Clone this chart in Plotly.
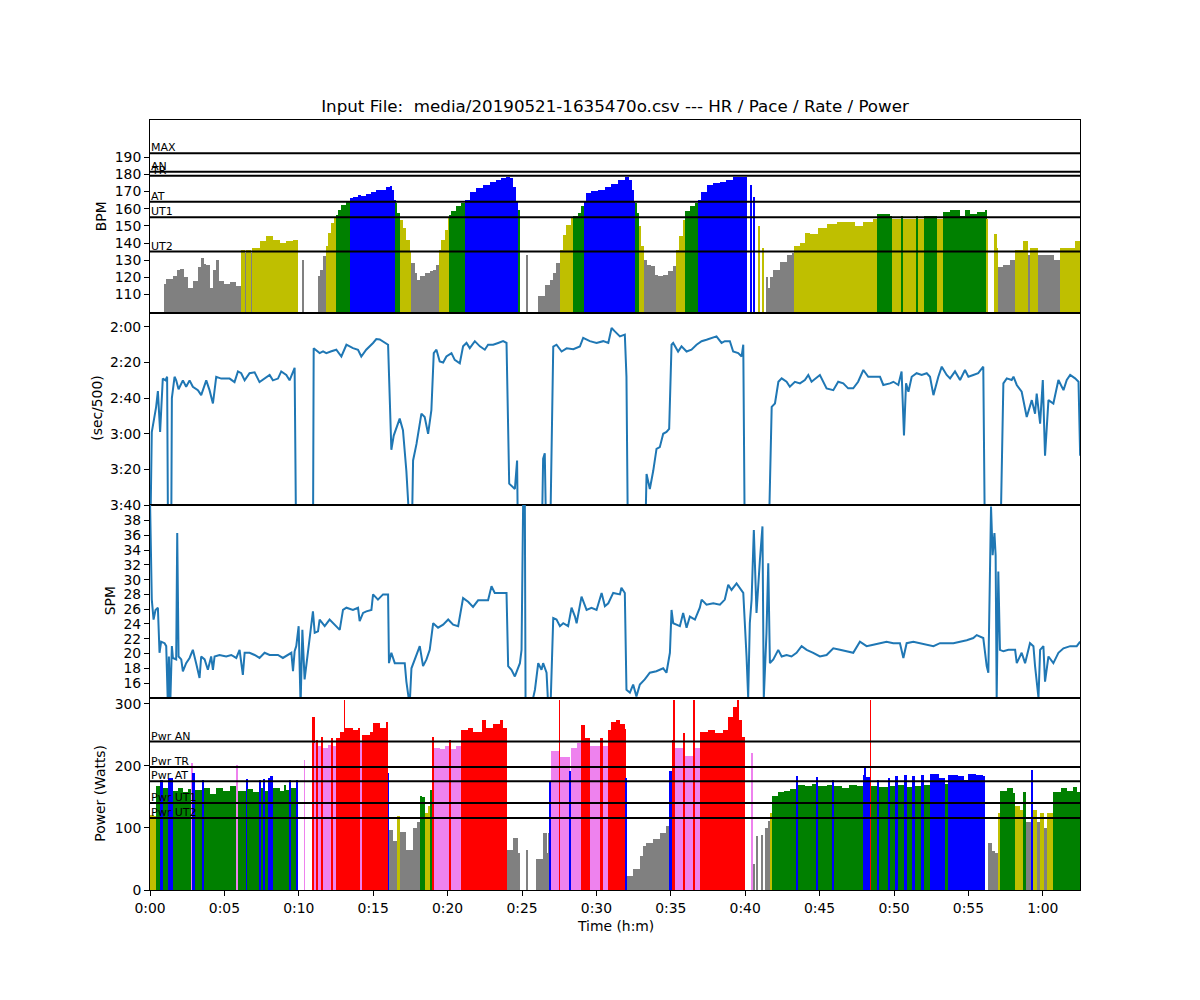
import plotly.graph_objects as go
from plotly.subplots import make_subplots

# ---------------- data (time in minutes) ----------------
hr_time = [
    0.00, 0.91, 1.09, 1.54, 1.80, 2.03, 2.30, 2.54, 2.88, 3.20,
    3.44, 3.60, 3.78, 4.00, 4.25, 4.45, 4.67, 5.00, 5.35, 5.80,
    6.13, 6.40, 6.45, 6.69, 6.80, 6.85, 7.03, 7.36, 7.81, 8.26,
    8.71, 9.16, 9.61, 9.94, 10.25, 10.33,
    11.33, 11.40, 11.62, 11.80, 11.96, 12.18, 12.41, 12.52, 12.63, 12.85,
    13.19, 13.42, 13.64, 13.98, 14.20, 14.54, 14.87, 15.21, 15.55, 15.88,
    16.11, 16.29, 16.43, 16.50, 16.60, 16.78, 17.00, 17.22, 17.45, 17.56,
    17.79, 17.94, 18.12, 18.46, 18.79, 19.02, 19.24, 19.40, 19.58, 19.81,
    20.03, 20.14, 20.26, 20.59, 20.93, 21.16, 21.49, 21.94, 22.39, 22.84,
    23.28, 23.62, 23.95, 24.18, 24.40, 24.58, 24.74, 24.85, 25.30, 25.36,
    26.08, 26.53, 26.87, 27.09, 27.31, 27.54, 27.76, 27.99, 28.32,
    28.43, 28.77, 28.99, 29.15, 29.33, 29.66, 30.11, 30.56, 31.01, 31.46,
    31.91, 32.20, 32.42, 32.52, 32.60, 32.74, 32.87, 33.03, 33.19, 33.37,
    33.70, 33.93, 34.15, 34.49, 34.82, 35.16, 35.34, 35.56, 35.83, 35.94,
    36.27, 36.61, 36.84, 37.06, 37.40, 37.85, 38.29, 38.74, 39.19, 39.64,
    40.09, 40.36, 40.45, 40.57, 40.65, 40.86, 40.93, 41.15, 41.22, 41.40, 41.55,
    41.66, 41.89, 42.33, 42.78, 43.12, 43.30, 43.68, 44.01, 44.35, 44.91,
    45.47, 46.14, 46.82, 47.37, 47.94, 48.61, 48.83, 49.73, 49.84, 50.51,
    50.63, 51.52, 51.63, 52.02, 52.91, 53.27, 53.77, 54.44, 54.78, 55.11,
    55.56, 56.12, 56.23, 56.30, 56.75, 56.90, 57.02, 57.35, 57.80, 58.14,
    58.70, 59.03, 59.15, 59.26, 59.71, 60.27, 60.72, 61.16, 61.83, 62.17,
]
hr_bpm = [
    0, 116, 119, 121, 124, 125, 120, 114, 118, 126,
    131, 128, 127, 114, 124, 130, 118, 116, 117, 115,
    136, 134, 136, 136, 134, 137, 137, 141, 144, 142,
    140, 141, 142, 0, 130, 0,
    121, 124.5, 132.2, 138, 145.8, 151.6, 154.5, 156.4, 159.4, 162.3,
    163.8, 166.1, 166.7, 168.1, 167.5, 168.7, 170, 171, 171, 172.5,
    173.3, 171, 165.2, 163.2, 157.4, 153.5, 148.7, 141.9, 135.1, 128.4,
    122.5, 118.7, 120.6, 122.5, 123.5, 124.5, 127.4, 136, 141.9, 147.7,
    154.5, 156.4, 158.4, 161.3, 163.2, 165.2, 170, 171.9, 173.9, 175.8,
    176.8, 177.8, 178.7, 177.8, 172.9, 164.2, 159.4, 0, 133.2, 0,
    109, 115.8, 118.7, 122.5, 128.4, 136.1, 144.8, 150.6, 154.5,
    155.5, 157.4, 161.3, 164.2, 169.1, 170.6, 171, 172.9, 174.5, 176.8,
    178.4, 176.8, 171, 164.5, 163.2, 157.4, 149.7, 138, 130.3, 127.4,
    126.4, 121.6, 120.6, 121.6, 123.5, 126.4, 136, 143.9, 153.5, 158.4,
    161.3, 163.2, 165.2, 170, 173.9, 174.8, 175.8, 176.8, 178.4, 178.7,
    0, 174, 0, 167, 0, 150, 0, 137, 0, 120, 114,
    120, 124, 129, 133, 134, 138, 140, 146, 145, 149,
    151, 152, 152, 150, 152, 154, 157, 156, 154, 156,
    154, 156, 154, 156, 154, 158, 159, 156, 159, 157,
    158, 159, 154, 0, 145, 137, 126, 127, 130, 136,
    141, 133, 137, 137, 133, 133, 130, 137, 137, 141,
]

pace_time = [
    0.00, 0.12, 0.41, 0.53, 0.68, 0.86, 1.04, 1.15, 1.22, 1.42,
    1.47, 1.65, 1.76, 1.92, 2.21, 2.43, 2.66, 2.88, 3.22, 3.44,
    3.78, 4.00, 4.23, 4.45, 4.79, 5.35, 5.68, 5.91, 6.13, 6.36,
    6.69, 7.03, 7.36, 7.70, 8.04, 8.26, 8.60, 8.82, 9.16, 9.38,
    9.61, 9.72, 9.83, 10.95, 11.00, 11.18, 11.40, 11.63, 11.85, 12.19,
    12.52, 12.86, 13.20, 13.64, 13.98, 14.20, 14.53, 14.99, 15.21, 15.44,
    15.77, 16.00, 16.22, 16.38, 16.78, 17.00, 17.23, 17.45, 17.57, 17.68,
    17.91, 18.24, 18.46, 18.69, 18.91, 19.07, 19.25, 19.47, 19.70, 19.92,
    20.26, 20.48, 20.82, 21.04, 21.27, 21.49, 21.83, 22.17, 22.50, 22.72,
    23.06, 23.40, 23.73, 23.96, 24.14, 24.52, 24.67, 24.74, 26.31, 26.42,
    26.53, 26.65, 26.87, 27.10, 27.32, 27.66, 28.00, 28.45, 28.89, 29.11,
    29.56, 30.01, 30.46, 30.80, 31.02, 31.24, 31.58, 31.91, 32.02, 32.13,
    33.25, 33.37, 33.59, 33.82, 34.04, 34.26, 34.49, 34.71, 34.89, 35.05,
    35.16, 35.49, 35.72, 36.06, 36.39, 36.73, 37.07, 37.40, 37.74, 38.07,
    38.41, 38.63, 38.97, 39.19, 39.53, 39.76, 39.87, 39.98, 41.55, 41.78,
    42.00, 42.23, 42.45, 42.78, 43.00, 43.34, 43.68, 44.01, 44.24, 44.46,
    45.02, 45.47, 45.92, 46.25, 46.59, 46.92, 47.26, 47.59, 47.94, 48.27,
    48.61, 49.06, 49.28, 49.73, 49.96, 50.29, 50.51, 50.67, 50.81, 50.97,
    51.19, 51.52, 51.86, 52.20, 52.42, 52.65, 52.98, 53.21, 53.54, 53.77,
    54.10, 54.44, 54.77, 55.00, 55.33, 55.66, 56.00, 56.12, 57.13, 57.35,
    57.58, 57.91, 58.03, 58.25, 58.58, 58.92, 59.26, 59.48, 59.59, 59.82,
    60.00, 60.15, 60.38, 60.71, 61.05, 61.39, 61.61, 61.84, 62.17, 62.40,
    62.51,
]
pace_sec = [
    250, 179, 165, 156, 179, 149, 150, 148, 250, 250,
    160, 148, 150, 155, 150, 153.6, 150, 153.6, 155.5, 158.3,
    150, 155.5, 163, 148, 149, 149, 151, 145, 146, 150,
    146, 145.5, 151, 149, 147, 150, 149, 145, 147, 150,
    145, 143, 250, 250, 132, 133, 134.7, 133.7, 134.7, 133.7,
    132.8, 136.6, 130, 131.9, 132.8, 136.6, 132.8, 129, 126.8, 127,
    129, 130, 189, 181, 171.5, 178, 201, 250, 250, 195,
    185.7, 168.7, 170.6, 180, 166.8, 134.7, 132.8, 139.4, 140, 136.6,
    134.7, 138.5, 140.4, 130.9, 129, 131.9, 128, 130.9, 132.8, 130,
    130, 129, 128, 129, 208, 211, 195, 250, 250, 194,
    191, 250, 250, 131, 130, 133.8, 132, 132.5, 131, 126.2,
    128, 129, 128, 129, 120.6, 122.5, 125.3, 124.3, 147.9, 250,
    250, 202.6, 211, 200.8, 188.5, 187.5, 180, 179, 177.2, 130,
    129, 133.8, 130.9, 133.8, 132.8, 130, 128, 127.2, 126.2, 125.3,
    129, 128, 128, 133.8, 134.7, 136.6, 130, 250, 250, 164.9,
    163, 150.8, 148.9, 150.8, 153.6, 150.8, 151.7, 149.8, 147, 150.8,
    147, 154.5, 155.5, 150.8, 151.7, 154.5, 154.5, 150.8, 144.2, 148,
    148, 148, 152.6, 151.7, 150.8, 152.6, 145, 180.9, 151.7, 156.4,
    148, 146, 147, 146, 148, 158.3, 148, 142.3, 147, 148.9,
    145, 149.8, 144.2, 148, 147, 146, 142.3, 250, 250, 151.7,
    148.9, 149.8, 147.9, 152.6, 156.4, 170.6, 161.1, 168.7, 157.4, 174.3,
    149.8, 192.3, 161.1, 163, 149.8, 155.5, 149.8, 147, 148.9, 150.8,
    192.3,
]

spm_time = [
    0.00, 0.12, 0.24, 0.37, 0.53, 0.64, 0.75, 0.98, 1.09, 1.20,
    1.27, 1.36, 1.47, 1.54, 1.76, 1.83, 1.92, 2.10, 2.21, 2.43,
    2.66, 2.88, 3.10, 3.33, 3.44, 3.67, 3.89, 4.11, 4.23, 4.34,
    4.67, 5.12, 5.46, 5.80, 6.02, 6.24, 6.36, 6.69, 7.03, 7.36,
    7.70, 8.04, 8.26, 8.60, 8.93, 9.27, 9.50, 9.61, 9.72, 9.83,
    9.99, 10.12, 10.24, 10.39, 10.95, 11.07, 11.29, 11.40, 11.74, 12.07,
    12.41, 12.75, 12.97, 13.20, 13.64, 13.98, 14.09, 14.32, 14.54, 14.88,
    14.99, 15.32, 15.66, 16.00, 16.06, 16.22, 16.45, 16.78, 17.12, 17.23,
    17.45, 17.57, 17.79, 18.13, 18.35, 18.58, 18.80, 19.03, 19.36, 19.70,
    20.04, 20.37, 20.71, 21.04, 21.38, 21.71, 22.05, 22.39, 22.72, 22.95,
    23.17, 23.51, 23.96, 24.07, 24.29, 24.52, 24.74, 24.86, 24.97, 25.08,
    25.19, 25.24, 25.64, 25.87, 26.09, 26.31, 26.42, 26.65, 26.76, 26.92,
    27.10, 27.32, 27.55, 27.77, 28.10, 28.33, 28.56, 28.67, 29.00, 29.34,
    29.67, 30.01, 30.35, 30.57, 30.80, 31.13, 31.58, 31.68, 31.91, 32.02,
    32.25, 32.47, 32.69, 32.92, 33.25, 33.59, 34.03, 34.49, 34.71, 34.94,
    35.05, 35.16, 35.38, 35.61, 35.83, 36.06, 36.28, 36.62, 36.95, 37.07,
    37.40, 37.85, 38.30, 38.63, 38.86, 39.08, 39.42, 39.64, 39.87, 40.09,
    40.20, 40.31, 40.43, 40.58, 40.76, 40.99, 41.16, 41.25, 41.43, 41.55,
    41.66, 41.89, 42.22, 42.45, 42.78, 43.11, 43.45, 43.79, 44.13, 44.57,
    45.02, 45.47, 45.92, 46.37, 46.82, 47.26, 47.71, 48.16, 48.61, 49.06,
    49.50, 49.95, 50.40, 50.63, 50.85, 51.30, 51.75, 52.19, 52.65, 53.09,
    53.54, 53.99, 54.44, 54.89, 55.33, 55.56, 56.00, 56.23, 56.34, 56.45,
    56.52, 56.63, 56.75, 56.83, 56.90, 57.01, 57.12, 57.35, 57.69, 58.14,
    58.25, 58.58, 58.81, 59.14, 59.37, 59.48, 59.71, 59.82, 60.04, 60.15,
    60.38, 60.71, 61.05, 61.39, 61.84, 62.28, 62.51,
]
spm_val = [
    41, 27.3, 24.6, 25.9, 26.2, 20.1, 21.6, 21.4, 21, 13,
    19.6, 13, 21, 19.4, 19.2, 36.3, 19.6, 19.2, 17.6, 18.7,
    19.4, 20.5, 18.7, 16.7, 19.6, 19.2, 17.8, 19.6, 17.8, 19.6,
    19.8, 19.6, 19.8, 19.4, 20.5, 17.1, 20.1, 20.1, 19.8, 19.4,
    20.1, 19.8, 19.8, 19.8, 19.4, 19.8, 20.1, 17.6, 20.3, 21,
    23.7, 13, 23.2, 16.5, 25.7, 22.8, 23, 24.6, 23.7, 24.6,
    23.9, 23.2, 25.9, 26.2, 25.9, 26.2, 24.4, 25.5, 25.7, 25.9,
    28, 27.3, 28, 28, 18.7, 20.1, 18.7, 18.7, 18.7, 16.2,
    13, 18, 19.2, 21, 18.3, 19.2, 20.5, 24.1, 23.5, 23.9,
    24.6, 23.9, 23.7, 27.5, 27, 26.3, 27.2, 27.2, 27.2, 29.1,
    28.2, 28.2, 28.2, 18.3, 17.8, 16.9, 18, 18.7, 20.5, 41,
    41, 13, 13, 15.1, 18.7, 17.8, 18.7, 17.4, 13, 13,
    24.8, 24.6, 23.7, 24.1, 23.7, 26.2, 25, 24.1, 27.7, 25.9,
    26.2, 25.9, 28.2, 26.4, 26.8, 28.2, 28, 28.9, 28.2, 15.1,
    14.7, 15.8, 14.2, 15.8, 16.5, 17.4, 17.6, 18, 17.4, 20.1,
    25.9, 24.1, 23.9, 23.7, 25.5, 23.5, 25, 24.6, 26.2, 27.3,
    26.6, 26.8, 26.6, 27.3, 29.3, 28.6, 29.5, 28.9, 28.2, 19.6,
    14, 24.1, 27.3, 36.7, 25.5, 32.7, 37.2, 14, 22.8, 32.2,
    18.7, 19.2, 20.5, 19.6, 19.8, 19.6, 20.1, 21, 20.5, 20.1,
    19.6, 19.8, 20.7, 20.5, 20.3, 20.1, 21.6, 21, 21.2, 21.4,
    21.6, 21.4, 21.4, 19.4, 21.4, 21.6, 21.4, 21.2, 21, 21.4,
    21.4, 21.4, 21.6, 21.8, 22.1, 22.5, 22.1, 18.3, 17.4, 33.1,
    39.9, 33.3, 36.3, 33.3, 14, 31.1, 20.5, 20.3, 20.5, 20.5,
    18.7, 20.1, 18.7, 21.4, 21, 18.3, 14, 20.5, 21, 16.2,
    19.6, 18.7, 20.1, 20.7, 21, 21, 21.6,
]

pwr_time = [
    0.00, 0.30, 0.41, 0.64, 0.86, 1.20, 1.54, 1.87, 2.21, 2.54,
    2.81, 2.88, 3.00, 3.51, 3.60, 4.00, 4.45, 4.90, 5.35, 5.84,
    5.91, 6.47, 6.54, 6.92, 7.37, 7.43, 7.63, 7.70, 7.93, 8.08,
    8.26, 8.71, 9.05, 9.16, 9.38, 9.45, 9.83, 9.90, 10.35, 10.41,
    10.95, 11.07, 11.18, 11.29, 11.51, 11.63, 11.96, 12.19, 12.30, 12.52,
    12.75, 13.04, 13.08, 13.64, 13.98, 14.09, 14.27, 14.76, 14.99, 15.44,
    15.88, 16.00, 16.06, 16.34, 16.57, 16.78, 17.23, 17.68, 18.01, 18.12,
    18.30, 18.46, 18.69, 18.87, 18.98, 19.10, 19.48, 19.81, 20.15, 20.26,
    20.59, 20.93, 21.38, 21.71, 22.28, 22.61, 23.06, 23.51, 23.73, 23.96,
    24.41, 24.74, 24.86, 25.30, 25.36, 25.96, 26.42, 26.65, 26.76, 26.87,
    26.98, 27.50, 27.55, 28.22, 28.28, 28.67, 28.96, 29.23, 29.56, 30.22,
    30.45, 30.75, 31.00, 31.30, 31.60, 31.90, 31.98, 32.03, 32.47, 32.92,
    33.15, 33.36, 33.81, 34.26, 34.71, 34.94, 35.05, 35.20, 35.25, 35.88,
    35.95, 36.55, 36.60, 36.95, 37.50, 38.00, 38.50, 38.86, 39.20, 39.50,
    39.55, 39.81, 39.98, 40.40, 40.47, 40.54, 40.65, 40.77, 40.84, 41.10,
    41.17, 41.30, 41.55, 41.70, 41.78, 42.20, 42.60, 43.00, 43.45, 43.56,
    44.00, 44.50, 44.80, 44.90, 45.50, 45.80, 45.95, 46.50, 47.00, 47.50,
    47.94, 48.05, 48.12, 48.40, 48.45, 48.90, 49.00, 49.60, 49.75, 50.10,
    50.30, 50.70, 50.90, 51.20, 51.40, 51.80, 52.00, 52.45, 53.00, 53.40,
    53.60, 54.30, 54.70, 55.00, 55.50, 56.00, 56.12, 56.35, 56.60, 56.80,
    57.02, 57.13, 57.60, 58.00, 58.14, 58.50, 58.70, 58.90, 59.26, 59.33,
    59.60, 59.80, 60.10, 60.30, 60.70, 61.20, 61.60, 62.00, 62.30,
]
pwr_watts = [
    122, 120, 168, 178, 165, 181, 160, 165, 158, 163,
    205, 189, 162, 178, 165, 155, 165, 160, 168, 202,
    160, 180, 163, 158, 178, 165, 179, 160, 181, 184,
    165, 160, 170, 162, 178, 165, 178, 0, 210, 0,
    280, 237, 242, 232, 248, 230, 235, 245, 232, 245,
    255, 306, 262, 258, 262, 237, 250, 255, 269, 262,
    272, 190, 98, 80, 120, 95, 65, 100, 110, 152,
    150, 125, 136, 162, 248, 230, 228, 232, 242, 228,
    232, 258, 262, 255, 274, 262, 268, 274, 262, 66,
    85, 60, 0, 66, 0, 50, 93, 60, 93, 176,
    225, 306, 215, 192, 230, 237, 266, 245, 232, 245,
    232, 258, 272, 274, 268, 260, 181, 24, 34, 55,
    72, 77, 83, 93, 104, 192, 242, 306, 229, 253,
    216, 306, 229, 255, 258, 253, 258, 280, 296, 306,
    275, 247, 0, 221, 0, 43, 0, 88, 0, 90,
    0, 100, 112, 125, 152, 158, 160, 163, 184, 170,
    168, 172, 183, 168, 170, 178, 168, 165, 170, 168,
    186, 197, 182, 306, 168, 178, 166, 181, 168, 184,
    170, 186, 167, 185, 168, 186, 170, 188, 181, 172,
    186, 184, 178, 188, 186, 185, 0, 77, 63, 60,
    125, 160, 165, 157, 136, 130, 158, 110, 194, 130,
    110, 125, 100, 125, 158, 165, 160, 167, 158,
]

tick_minutes = [0, 5, 10, 15, 20, 25, 30, 35, 40, 45, 50, 55, 60]
tick_labels = ["0:00", "0:05", "0:10", "0:15", "0:20", "0:25", "0:30",
               "0:35", "0:40", "0:45", "0:50", "0:55", "1:00"]
pace_ticks = [120, 140, 160, 180, 200, 220]
pace_labels = ["2:00", "2:20", "2:40", "3:00", "3:20", "3:40"]

hr_lines = [("MAX", 192.3), ("AN", 181.5), ("TR", 179.2), ("AT", 164), ("UT1", 155), ("UT2", 135)]
pwr_lines = [("Pwr AN", 239), ("Pwr TR", 198), ("Pwr AT", 175), ("Pwr UT1", 140), ("Pwr UT2", 116)]

session_end = 62.5
title_text = "Input File:  media/20190521-1635470o.csv --- HR / Pace / Rate / Power"

assert len(hr_time) == len(hr_bpm)
assert len(pace_time) == len(pace_sec)
assert len(spm_time) == len(spm_val)
assert len(pwr_time) == len(pwr_watts)

GRAY, YEL, GRN, BLU, VIO, RED = "#808080", "#bfbf00", "#008000", "#0000ff", "#ee82ee", "#ff0000"
FONT = "DejaVu Sans"


def widths(times):
    return [b - a for a, b in zip(times, times[1:] + [session_end])]


def zone_color(v, lines):
    ut2, ut1, at, tr, an = lines
    if v < ut2:
        return GRAY
    if v < ut1:
        return YEL
    if v < at:
        return GRN
    if v < tr:
        return BLU
    if v < an:
        return VIO
    return RED


hr_thr = [135, 155, 164, 179.2, 181.5]
pw_thr = [116, 140, 175, 198, 239]

fig = make_subplots(rows=4, cols=1, shared_xaxes=True, vertical_spacing=0)

fig.add_trace(go.Bar(x=hr_time, y=hr_bpm, width=widths(hr_time), offset=0,
                     marker=dict(color=[zone_color(v, hr_thr) for v in hr_bpm], line=dict(width=0)),
                     showlegend=False, hoverinfo="skip"), row=1, col=1)
fig.add_trace(go.Scatter(x=pace_time, y=pace_sec, mode="lines",
                         line=dict(color="#1f77b4", width=2), showlegend=False), row=2, col=1)
fig.add_trace(go.Scatter(x=spm_time, y=spm_val, mode="lines",
                         line=dict(color="#1f77b4", width=2), showlegend=False), row=3, col=1)
fig.add_trace(go.Bar(x=pwr_time, y=pwr_watts, width=widths(pwr_time), offset=0,
                     marker=dict(color=[zone_color(v, pw_thr) for v in pwr_watts], line=dict(width=0)),
                     showlegend=False, hoverinfo="skip"), row=4, col=1)

for name, v in hr_lines:
    fig.add_hline(y=v, row=1, col=1, line=dict(color="black", width=2))
    fig.add_annotation(xref="x domain", yref="y", x=0, y=v, text=name, showarrow=False,
                       xanchor="left", yanchor="bottom", yshift=-3, xshift=-1,
                       font=dict(family=FONT, size=11, color="black"))
for name, v in pwr_lines:
    fig.add_hline(y=v, row=4, col=1, line=dict(color="black", width=2))
    fig.add_annotation(xref="x4 domain", yref="y4", x=0, y=v, text=name, showarrow=False,
                       xanchor="left", yanchor="bottom", yshift=-3, xshift=-1,
                       font=dict(family=FONT, size=11, color="black"))

axis_common = dict(showline=True, linecolor="black", linewidth=1, mirror=True,
                   showgrid=False, zeroline=False,
                   tickfont=dict(family=FONT, size=13.9, color="black"))
fig.update_xaxes(range=[0, session_end], ticks="", showticklabels=False, **axis_common)
fig.update_xaxes(row=4, col=1, ticks="outside", ticklen=5, tickcolor="black",
                 showticklabels=True, tickvals=tick_minutes, ticktext=tick_labels)

fig.update_yaxes(ticks="outside", ticklen=5, tickcolor="black", **axis_common)
fig.update_yaxes(row=1, col=1, range=[99.5, 211.7], tickvals=list(range(110, 200, 10)))
fig.update_yaxes(row=2, col=1, range=[220, 111.9], tickvals=pace_ticks, ticktext=pace_labels)
fig.update_yaxes(row=3, col=1, range=[14.05, 40.1], tickvals=list(range(16, 40, 2)))
fig.update_yaxes(row=4, col=1, range=[0, 310], tickvals=[0, 100, 200, 300])

ytitles = [("BPM", "y domain", 101), ("(sec/500)", "y2 domain", 97),
           ("SPM", "y3 domain", 110), ("Power (Watts)", "y4 domain", 100)]
for txt, yref, px in ytitles:
    fig.add_annotation(xref="paper", yref=yref, x=(px - 150) / 930, y=0.5, text=txt,
                       textangle=-90, showarrow=False, xanchor="center", yanchor="middle",
                       font=dict(family=FONT, size=13.9, color="black"))
fig.add_annotation(xref="paper", yref="paper", x=0.5, y=-(926 - 890) / 770, text="Time (h:m)",
                   showarrow=False, xanchor="center", yanchor="middle",
                   font=dict(family=FONT, size=13.9, color="black"))

fig.update_layout(
    width=1200, height=1000,
    margin=dict(l=150, r=120, t=120, b=110),
    paper_bgcolor="white", plot_bgcolor="white",
    barmode="overlay", bargap=0,
    font=dict(family=FONT, color="black"),
    title=dict(text=title_text, x=0.5, xref="paper", xanchor="center",
               y=1 - 106 / 1000, yref="container", yanchor="middle",
               font=dict(family=FONT, size=16.7, color="black")),
    showlegend=False,
)

fig.write_html("out.html")
